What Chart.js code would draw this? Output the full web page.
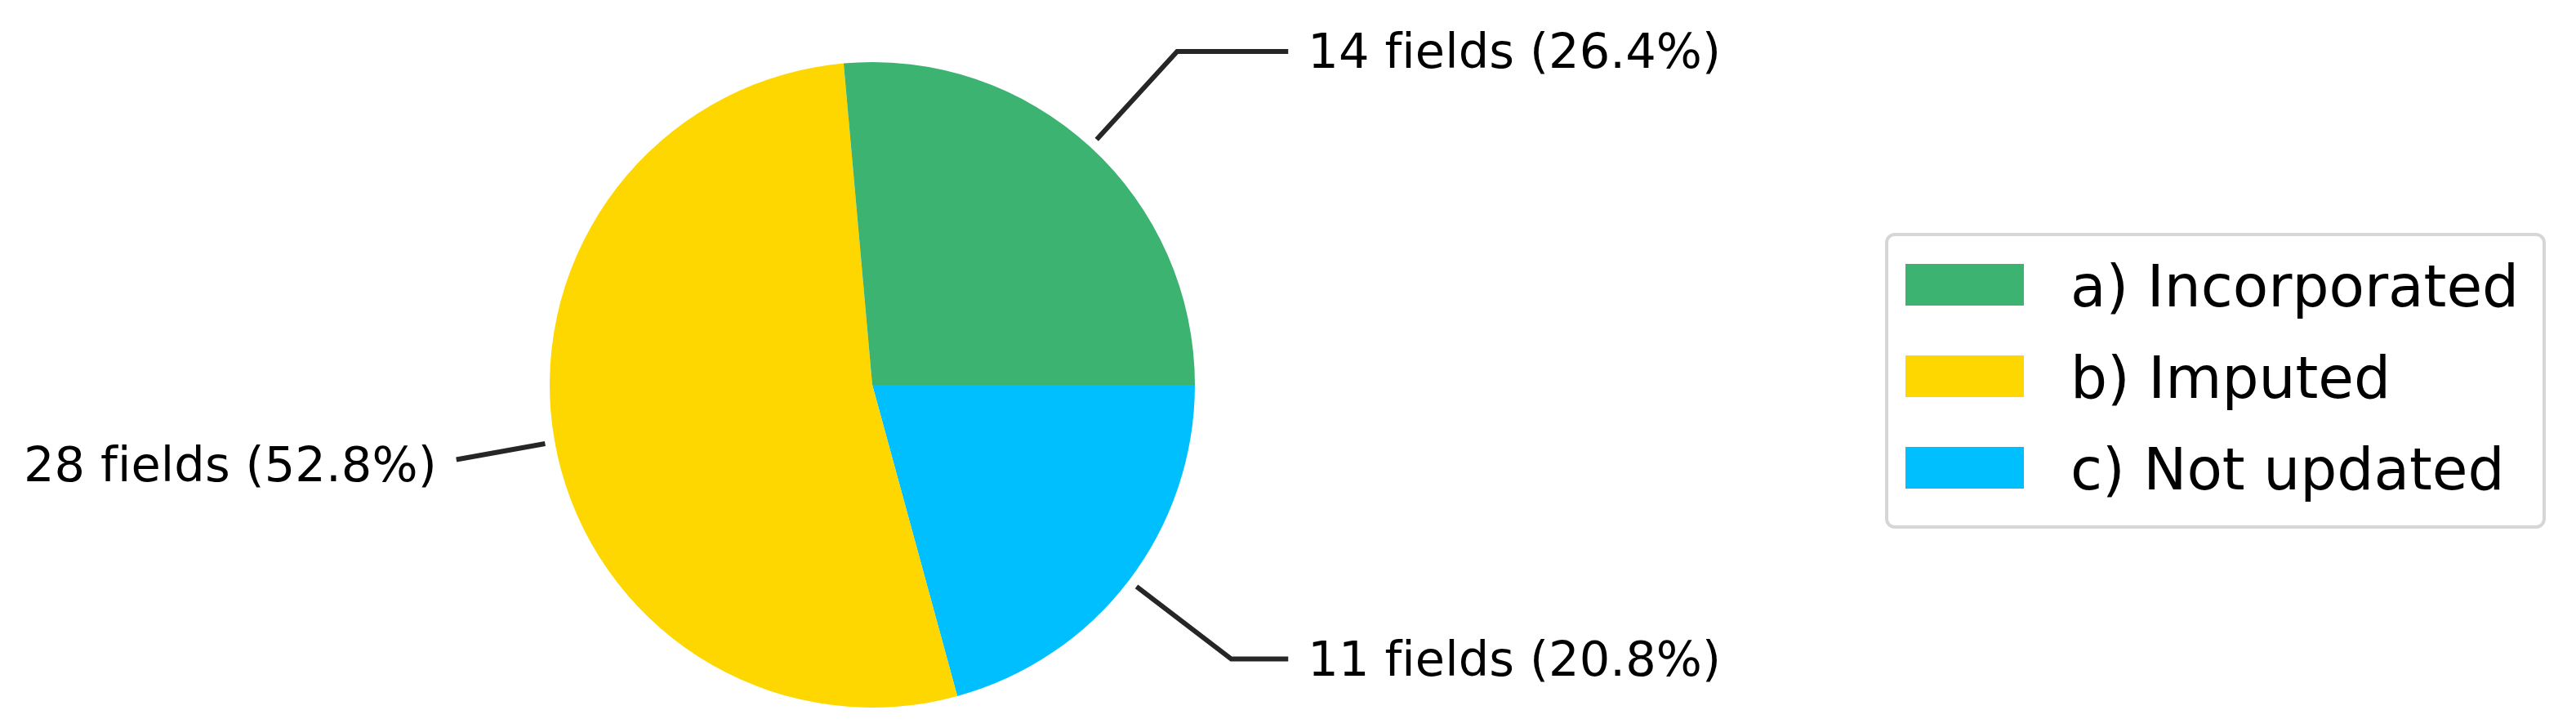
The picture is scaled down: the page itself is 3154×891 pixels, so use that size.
<!DOCTYPE html>
<html>
<head>
<meta charset="utf-8">
<script src="https://cdn.jsdelivr.net/npm/chart.js@4.4.1/dist/chart.umd.min.js"></script>
<style>
    html, body { margin: 0; padding: 0; background: #fff; }
    #wrap { position: relative; width: 3154px; height: 891px; }
</style>
</head>
<body>
<div id="wrap"><canvas id="chartPie"></canvas></div>
<script>
// Datos del gráfico
const categorias = ['a) Incorporated', 'b) Imputed', 'c) Not updated'];
const campos = [14, 28, 11];
const colores = ['#3CB371', '#FFD700', '#00BFFF'];

const total = campos.reduce((a, b) => a + b, 0);

// matplotlib dibuja en sentido antihorario desde las 3; Chart.js va en sentido horario,
// así que invertimos el orden y arrancamos en las 3 (rotation 90)
const orden = [2, 1, 0];

// Etiquetas con líneas guía, estilo annotate de matplotlib
const etiquetasPlugin = {
    id: 'etiquetas',
    afterDatasetsDraw(chart) {
        const ctx = chart.ctx;
        const meta = chart.getDatasetMeta(0);
        ctx.save();
        ctx.font = '59px "DejaVu Sans"';
        ctx.letterSpacing = '0.1px'; // sin ligadura "fi"
        ctx.fillStyle = '#000';
        ctx.strokeStyle = '#262626';
        ctx.lineWidth = 6;
        ctx.lineJoin = 'miter';
        meta.data.forEach((arc, i) => {
            const idx = orden[i];
            const v = campos[idx];
            const ang = (arc.startAngle + arc.endAngle) / 2;
            const c = Math.cos(ang), s = Math.sin(ang);
            const r = arc.outerRadius;
            const px = arc.x + r * c, py = arc.y + r * s;
            const signo = c >= 0 ? 1 : -1;
            const tx = arc.x + 1.35 * r * signo;
            const ty = arc.y + 1.4 * r * s;

            // línea guía
            const x0 = px + 12 * c, y0 = py + 12 * s;
            const t = (ty - py) / s;
            const cx = px + t * c;
            const finX = tx - signo * 24;
            ctx.beginPath();
            ctx.moveTo(x0, y0);
            if (signo * (cx - finX) > 0) {
                const k = (finX - px) / c;
                ctx.lineTo(finX, py + k * s);
            } else {
                ctx.lineTo(cx, ty);
                ctx.lineTo(finX, ty);
            }
            ctx.stroke();

            const pct = (v / total * 100).toFixed(1);
            ctx.textAlign = signo > 0 ? 'left' : 'right';
            ctx.textBaseline = 'alphabetic';
            ctx.fillText(`${v} fields (${pct}%)`, tx, ty + 20);
        });
        ctx.restore();
    }
};

// Leyenda con marco redondeado
const leyendaPlugin = {
    id: 'leyenda',
    afterDraw(chart) {
        const ctx = chart.ctx;
        ctx.save();
        const bx = 2310, by = 287, bw = 805, bh = 358, rad = 10;
        ctx.beginPath();
        ctx.roundRect(bx, by, bw, bh, rad);
        ctx.fillStyle = '#fff';
        ctx.fill();
        ctx.strokeStyle = '#d6d6d6';
        ctx.lineWidth = 4;
        ctx.stroke();

        ctx.font = '71px "DejaVu Sans"';
        ctx.textAlign = 'left';
        ctx.textBaseline = 'alphabetic';
        categorias.forEach((cat, i) => {
            const top = 323 + i * 112;
            ctx.fillStyle = colores[i];
            ctx.fillRect(2333, top, 145, 51);
            ctx.fillStyle = '#000';
            ctx.fillText(cat, 2535, top + 52);
        });
        ctx.restore();
    }
};

function renderChart() {
    new Chart(document.getElementById('chartPie'), {
        type: 'pie',
        data: {
            labels: orden.map(i => categorias[i]),
            datasets: [{
                data: orden.map(i => campos[i]),
                backgroundColor: orden.map(i => colores[i]),
                borderWidth: 0,
                offset: 0,
                hoverOffset: 0
            }]
        },
        options: {
            responsive: true,
            maintainAspectRatio: false,
            animation: false,
            devicePixelRatio: 1,
            rotation: 90,
            layout: { padding: { left: 673, right: 1691, top: 76, bottom: 25 } },
            plugins: {
                legend: { display: false },
                tooltip: { enabled: false }
            }
        },
        plugins: [etiquetasPlugin, leyendaPlugin]
    });
}

document.addEventListener('DOMContentLoaded', renderChart);
</script>
</body>
</html>
